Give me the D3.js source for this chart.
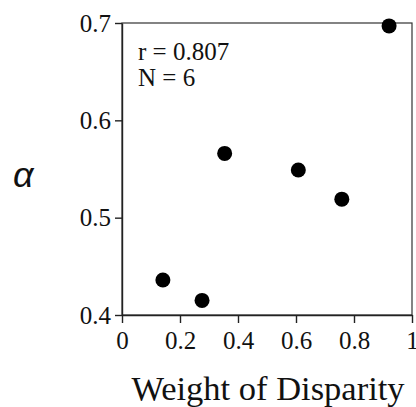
<!DOCTYPE html>
<html>
<head>
<meta charset="utf-8">
<script src="https://cdn.jsdelivr.net/npm/d3@7"></script>
<style>
  html, body { margin: 0; padding: 0; background: #fff; }
  svg { display: block; }
  .axis text { font-family: "Liberation Serif", "Times New Roman", serif; font-size: 25px; fill: #111; }
  .axis path, .axis line { stroke: #222; stroke-width: 1.4; }
</style>
</head>
<body>
<div id="chart"></div>
<script>
/* Scatterplot: Weight of Disparity (x) vs alpha (y) */
(function () {
  // data
  const weight = [0.141, 0.276, 0.354, 0.608, 0.758, 0.921];
  const alpha  = [0.436, 0.415, 0.566, 0.549, 0.519, 0.697];
  const xTicks = [0, 0.2, 0.4, 0.6, 0.8, 1];
  const yTicks = [0.4, 0.5, 0.6, 0.7];
  const statLines = ["r = 0.807", "N = 6"];

  const W = 416, H = 407;
  const margin = { top: 23, right: 4, bottom: 92, left: 122 };
  const innerWidth = W - margin.left - margin.right;
  const innerHeight = H - margin.top - margin.bottom;

  const svg = d3.select("#chart").append("svg")
    .attr("width", W)
    .attr("height", H);

  const g = svg.append("g")
    .attr("transform", `translate(${margin.left},${margin.top})`);

  // scales
  const x = d3.scaleLinear().domain([0, 1]).range([0, innerWidth]);
  const y = d3.scaleLinear().domain([0.4, 0.7]).range([innerHeight, 0]);

  // frame (top + right)
  g.append("rect")
    .attr("x", 0).attr("y", 0)
    .attr("width", innerWidth).attr("height", innerHeight)
    .attr("fill", "none")
    .attr("stroke", "#333")
    .attr("stroke-width", 1.2);

  // axes
  const xAxis = d3.axisBottom(x)
    .tickValues(xTicks)
    .tickSizeInner(8).tickSizeOuter(0)
    .tickPadding(8)
    .tickFormat(d => d === 0 || d === 1 ? d3.format("d")(d) : d3.format(".1f")(d));

  const yAxis = d3.axisLeft(y)
    .tickValues(yTicks)
    .tickSizeInner(7).tickSizeOuter(0)
    .tickPadding(4)
    .tickFormat(d3.format(".1f"));

  g.append("g")
    .attr("class", "axis axis-x")
    .attr("transform", `translate(0, ${innerHeight})`)
    .call(xAxis);

  g.append("g")
    .attr("class", "axis axis-y")
    .call(yAxis);

  // stats text
  g.append("text")
    .attr("x", 16)
    .attr("y", 37)
    .attr("font-family", "Liberation Serif, Times New Roman, serif")
    .attr("font-size", 25)
    .attr("fill", "#111")
    .selectAll("tspan")
    .data(statLines)
    .join("tspan")
    .attr("x", 16)
    .attr("dy", (d, i) => i === 0 ? 0 : 26)
    .text(d => d);

  // points
  g.selectAll("circle.point")
    .data(weight.map((w, i) => ({ w, a: alpha[i] })))
    .join("circle")
    .attr("class", "point")
    .attr("r", 7.5)
    .attr("cx", d => x(d.w))
    .attr("cy", d => y(d.a))
    .attr("fill", "#000");

  // axis labels
  svg.append("text")
    .attr("x", margin.left + innerWidth / 2 + 1)
    .attr("y", 400)
    .attr("text-anchor", "middle")
    .attr("font-family", "Liberation Serif, Times New Roman, serif")
    .attr("font-size", 34.5)
    .attr("fill", "#111")
    .text("Weight of Disparity");

  svg.append("text")
    .attr("x", 13)
    .attr("y", 187)
    .attr("font-family", "Liberation Sans, Arial, sans-serif")
    .attr("font-style", "italic")
    .attr("font-size", 36)
    .attr("fill", "#111")
    .text("α");
})();
</script>
</body>
</html>
